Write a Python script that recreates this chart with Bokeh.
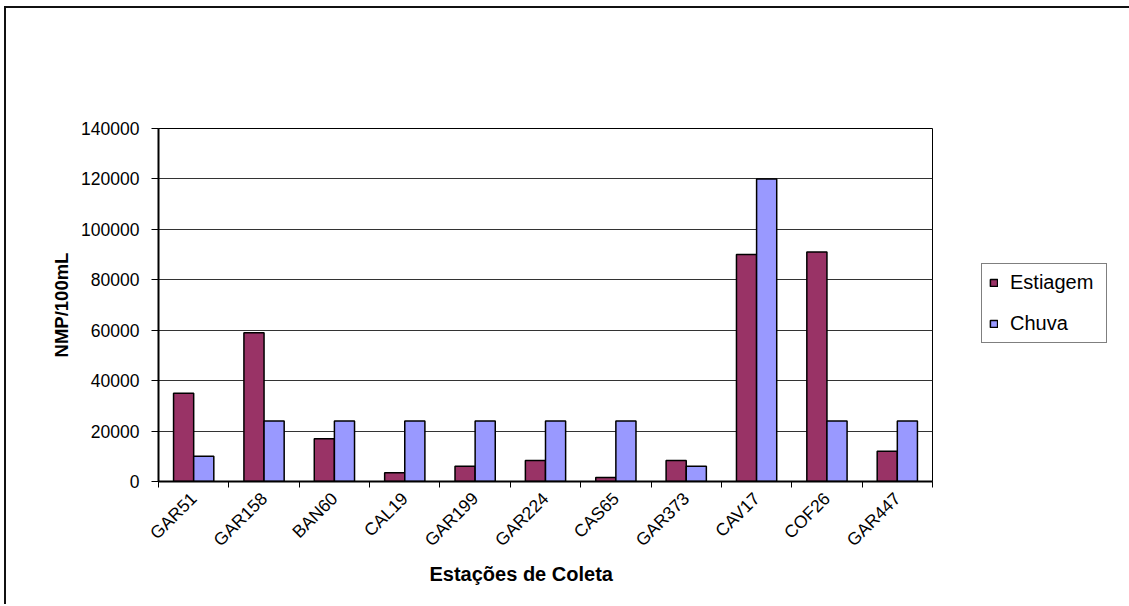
from bokeh.plotting import figure
from bokeh.models import (ColumnDataSource, Range1d, LinearAxis, FixedTicker,
                          BasicTickFormatter, Legend, LegendItem, Title)
from bokeh.embed import file_html
from bokeh.resources import INLINE
from math import pi

# Coliformes por estação de coleta (NMP/100mL)
stations = ["GAR51", "GAR158", "BAN60", "CAL19", "GAR199", "GAR224",
            "CAS65", "GAR373", "CAV17", "COF26", "GAR447"]
estiagem = [35000, 59000, 17000, 3500, 6000, 8300, 1600, 8300, 90000, 91000, 12000]
chuva = [10000, 24000, 24000, 24000, 24000, 24000, 24000, 6000, 120000, 24000, 24000]
y_ticks = [0, 20000, 40000, 60000, 80000, 100000, 120000, 140000]

n = len(stations)
centers = [i + 0.5 for i in range(n)]
bar_w = 0.286
src = ColumnDataSource(dict(
    station=stations, estiagem=estiagem, chuva=chuva,
    x_est=[c - bar_w / 2 for c in centers], x_chu=[c + bar_w / 2 for c in centers]))

FONT = "Liberation Sans"

p = figure(x_range=Range1d(0, n), y_range=Range1d(0, 140000),
           frame_width=774, frame_height=353,
           min_border_left=152, min_border_right=197, min_border_top=120, min_border_bottom=125,
           output_backend="svg", toolbar_location=None,
           x_axis_location=None, y_axis_location=None)
# thin frame on the left and top edges of the chart area
p.styles = {"margin-left": "6px", "margin-top": "8px",
            "box-shadow": "-2px -2px 0px 0px #111111"}

p.outline_line_color = "black"
p.outline_line_width = 1
p.xgrid.grid_line_color = None
p.ygrid.grid_line_color = "#333333"
p.ygrid.ticker = FixedTicker(ticks=y_ticks)

r1 = p.vbar(x="x_est", top="estiagem", width=bar_w, source=src,
            fill_color="#993366", line_color="black", line_width=1.5)
r2 = p.vbar(x="x_chu", top="chuva", width=bar_w, source=src,
            fill_color="#9999FF", line_color="black", line_width=1.5)

# Y axis
yax = LinearAxis(ticker=FixedTicker(ticks=y_ticks),
                 formatter=BasicTickFormatter(use_scientific=False))
yax.axis_line_width = 2
yax.axis_line_color = "black"
yax.major_tick_out = 7
yax.major_tick_in = 0
yax.minor_tick_line_color = None
yax.major_label_text_font = FONT
yax.major_label_text_font_size = "17.5px"
yax.major_label_text_color = "black"
yax.major_label_standoff = 12
yax.axis_label = "NMP/100mL"
yax.axis_label_text_font = FONT
yax.axis_label_text_font_size = "18.5px"
yax.axis_label_text_font_style = "bold"
yax.axis_label_text_color = "black"
yax.axis_label_standoff = 6
p.add_layout(yax, "left")

# Tick marks between the stations
edge_ax = LinearAxis(ticker=FixedTicker(ticks=list(range(n + 1))))
edge_ax.axis_line_width = 2
edge_ax.axis_line_color = "black"
edge_ax.major_tick_out = 6
edge_ax.major_tick_in = 0
edge_ax.minor_tick_line_color = None
edge_ax.major_label_text_font_size = "0px"
edge_ax.major_label_standoff = 0
p.add_layout(edge_ax, "below")

# Station names
xax = LinearAxis(ticker=FixedTicker(ticks=centers),
                 major_label_overrides={c: s for c, s in zip(centers, stations)})
xax.axis_line_color = None
xax.major_tick_line_color = None
xax.minor_tick_line_color = None
xax.major_label_orientation = pi / 4
xax.major_label_text_font = FONT
xax.major_label_text_font_size = "17.5px"
xax.major_label_text_color = "black"
xax.major_label_standoff = 2
p.add_layout(xax, "below")

x_title = Title(text="Estações de Coleta", align="left", offset=271, standoff=0,
                text_font=FONT, text_font_size="20px", text_font_style="bold",
                text_color="black")
p.add_layout(x_title, "below")

legend = Legend(items=[LegendItem(label="Estiagem", renderers=[r1]),
                       LegendItem(label="Chuva", renderers=[r2])],
                location=(49, 138))
legend.border_line_color = "black"
legend.border_line_width = 1.5
legend.background_fill_color = "white"
legend.label_text_font = FONT
legend.label_text_font_size = "20px"
legend.label_text_color = "black"
legend.label_standoff = 12
legend.label_height = 23
legend.label_width = 89
legend.glyph_width = 9
legend.glyph_height = 9
legend.spacing = 18
legend.padding = 7
legend.margin = 0
p.add_layout(legend, "right")

open("out.html", "w").write(file_html(p, INLINE))
